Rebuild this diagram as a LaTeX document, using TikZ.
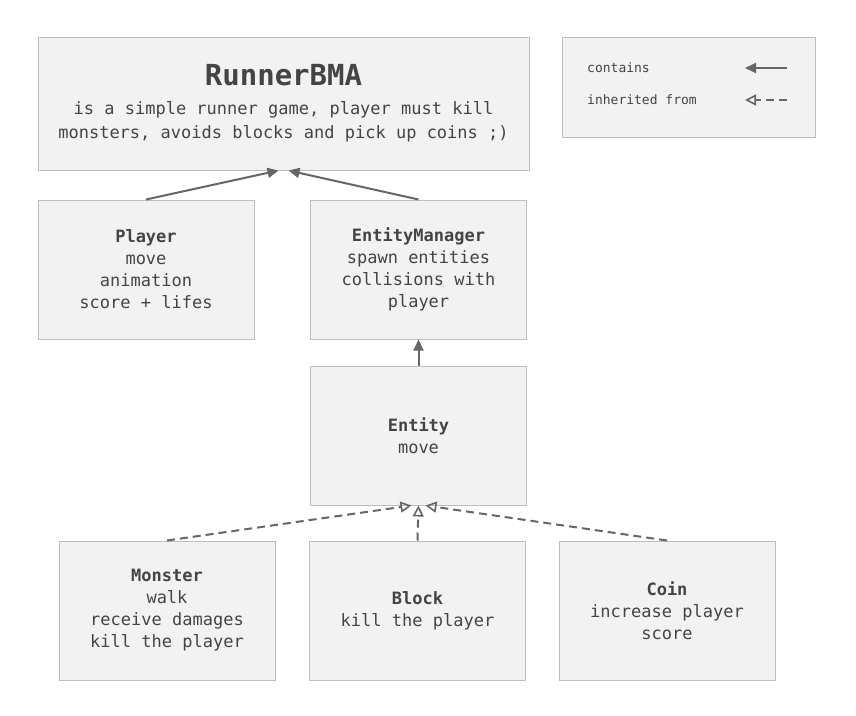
\documentclass[tikz,border=0pt]{standalone}
\usepackage{fontspec}
\setmonofont{DejaVu Sans Mono}
\usetikzlibrary{arrows.meta,calc}
\definecolor{boxfill}{HTML}{F2F2F2}
\definecolor{boxdraw}{HTML}{BDBDBD}
\definecolor{arrowc}{HTML}{666666}
\definecolor{txt}{HTML}{444444}
\begin{document}
\begin{tikzpicture}[x=1pt,y=-1pt,
  box/.style={draw=boxdraw, fill=boxfill, line width=1pt, minimum width=216pt, minimum height=139pt, inner sep=0pt, align=center, text=txt, font=\ttfamily\fontsize{17}{22}\selectfont},
  legtext/.style={anchor=west, inner sep=0pt, text=txt, font=\ttfamily\fontsize{13}{15}\selectfont},
  contains/.style={draw=arrowc, line width=2pt, -{Triangle[length=11pt,width=10pt]}},
  inherits/.style={draw=arrowc, line width=2pt, dash pattern=on 8pt off 5pt, -{Triangle[open,length=11pt,width=11pt,line width=1.6pt]}}]
\path[use as bounding box, fill=white] (0,0) rectangle (856,715);

\node[box, minimum width=491pt, minimum height=133pt, font=\ttfamily\fontsize{17}{24}\selectfont] (main) at (283.5,103.5)
  {{\fontsize{29}{34}\selectfont\bfseries RunnerBMA}\\[5pt]
   is a simple runner game, player must kill\\
   monsters, avoids blocks and pick up coins ;)};

\node[box, minimum width=253pt, minimum height=100pt] (legend) at (688.5,87) {};
\node[legtext] (lc) at (587,68) {contains};
\node[legtext] (li) at (587,100) {inherited from};
\coordinate (lca) at (787,68);
\coordinate (lcb) at (745,68);
\coordinate (lia) at (787,100);
\coordinate (lib) at (745,100);
\draw[contains] (lca) -- (lcb);
\draw[inherits] (lia) -- (lib);

\node[box] (player) at (146,269.5) {\textbf{Player}\\move\\animation\\score + lifes};
\node[box] (em) at (418.5,269.5) {\textbf{EntityManager}\\spawn entities\\collisions with\\player};
\node[box] (entity) at (418.5,435.5) {\textbf{Entity}\\move};
\node[box] (monster) at (167,610.5) {\textbf{Monster}\\walk\\receive damages\\kill the player};
\node[box] (block) at (417.5,610.5) {\textbf{Block}\\kill the player};
\node[box] (coin) at (667,610.5) {\textbf{Coin}\\increase player\\score};

\draw[contains] (player.north) -- ($(main.south)+(-5,0)$);
\draw[contains] (em.north) -- ($(main.south)+(5,0)$);
\draw[contains] (entity.north) -- (em.south);

\draw[inherits] (monster.north) -- ($(entity.south)+(-7,0)$);
\draw[inherits] (block.north) -- (entity.south);
\draw[inherits] (coin.north) -- ($(entity.south)+(7,0)$);
\end{tikzpicture}
\end{document}
